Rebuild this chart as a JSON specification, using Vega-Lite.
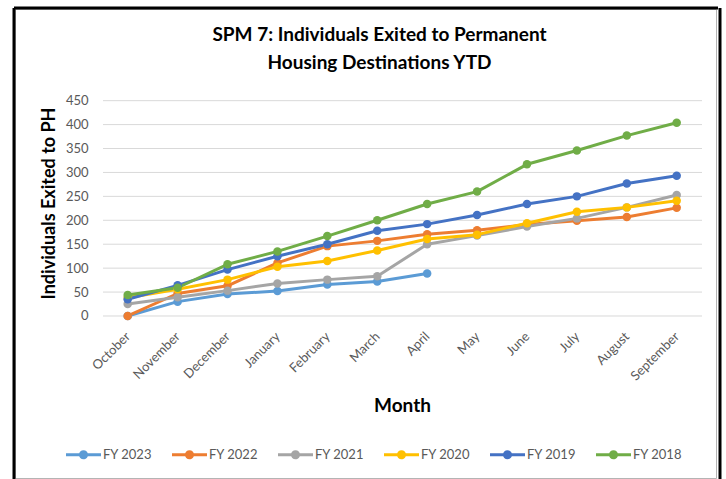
{
  "$schema": "https://vega.github.io/schema/vega-lite/v6.json",
  "width": 701,
  "height": 469,
  "autosize": {"type": "none"},
  "padding": {"left": 15, "top": 9, "right": 10, "bottom": 1},
  "background": "white",
  "config": {
    "font": "Lato",
    "view": {"stroke": "#b4b4b4", "strokeWidth": 1}
  },
  "title": {
    "text": ["SPM 7: Individuals Exited to Permanent", "Housing Destinations YTD"],
    "font": "Lato",
    "fontSize": 19,
    "fontWeight": "bold",
    "color": "#000000",
    "anchor": "middle",
    "frame": "group",
    "lineHeight": 28,
    "offset": -65,
    "dx": 14
  },
  "datasets": {
    "grid": [
      {"g": 0}, {"g": 50}, {"g": 100}, {"g": 150}, {"g": 200},
      {"g": 250}, {"g": 300}, {"g": 350}, {"g": 400}, {"g": 450}
    ],
    "series": [
      {"month": "October", "fy": "FY 2023", "n": 0},
      {"month": "November", "fy": "FY 2023", "n": 30},
      {"month": "December", "fy": "FY 2023", "n": 46},
      {"month": "January", "fy": "FY 2023", "n": 52},
      {"month": "February", "fy": "FY 2023", "n": 66},
      {"month": "March", "fy": "FY 2023", "n": 72},
      {"month": "April", "fy": "FY 2023", "n": 89},

      {"month": "October", "fy": "FY 2022", "n": 0},
      {"month": "November", "fy": "FY 2022", "n": 47},
      {"month": "December", "fy": "FY 2022", "n": 63},
      {"month": "January", "fy": "FY 2022", "n": 111},
      {"month": "February", "fy": "FY 2022", "n": 146},
      {"month": "March", "fy": "FY 2022", "n": 157},
      {"month": "April", "fy": "FY 2022", "n": 171},
      {"month": "May", "fy": "FY 2022", "n": 179},
      {"month": "June", "fy": "FY 2022", "n": 191},
      {"month": "July", "fy": "FY 2022", "n": 199},
      {"month": "August", "fy": "FY 2022", "n": 207},
      {"month": "September", "fy": "FY 2022", "n": 226},

      {"month": "October", "fy": "FY 2021", "n": 25},
      {"month": "November", "fy": "FY 2021", "n": 39},
      {"month": "December", "fy": "FY 2021", "n": 53},
      {"month": "January", "fy": "FY 2021", "n": 68},
      {"month": "February", "fy": "FY 2021", "n": 76},
      {"month": "March", "fy": "FY 2021", "n": 83},
      {"month": "April", "fy": "FY 2021", "n": 150},
      {"month": "May", "fy": "FY 2021", "n": 168},
      {"month": "June", "fy": "FY 2021", "n": 187},
      {"month": "July", "fy": "FY 2021", "n": 204},
      {"month": "August", "fy": "FY 2021", "n": 227},
      {"month": "September", "fy": "FY 2021", "n": 253},

      {"month": "October", "fy": "FY 2020", "n": 38},
      {"month": "November", "fy": "FY 2020", "n": 56},
      {"month": "December", "fy": "FY 2020", "n": 76},
      {"month": "January", "fy": "FY 2020", "n": 103},
      {"month": "February", "fy": "FY 2020", "n": 115},
      {"month": "March", "fy": "FY 2020", "n": 137},
      {"month": "April", "fy": "FY 2020", "n": 161},
      {"month": "May", "fy": "FY 2020", "n": 170},
      {"month": "June", "fy": "FY 2020", "n": 194},
      {"month": "July", "fy": "FY 2020", "n": 218},
      {"month": "August", "fy": "FY 2020", "n": 227},
      {"month": "September", "fy": "FY 2020", "n": 241},

      {"month": "October", "fy": "FY 2019", "n": 35},
      {"month": "November", "fy": "FY 2019", "n": 64},
      {"month": "December", "fy": "FY 2019", "n": 97},
      {"month": "January", "fy": "FY 2019", "n": 125},
      {"month": "February", "fy": "FY 2019", "n": 150},
      {"month": "March", "fy": "FY 2019", "n": 178},
      {"month": "April", "fy": "FY 2019", "n": 192},
      {"month": "May", "fy": "FY 2019", "n": 211},
      {"month": "June", "fy": "FY 2019", "n": 234},
      {"month": "July", "fy": "FY 2019", "n": 250},
      {"month": "August", "fy": "FY 2019", "n": 277},
      {"month": "September", "fy": "FY 2019", "n": 293},

      {"month": "October", "fy": "FY 2018", "n": 44},
      {"month": "November", "fy": "FY 2018", "n": 59},
      {"month": "December", "fy": "FY 2018", "n": 108},
      {"month": "January", "fy": "FY 2018", "n": 135},
      {"month": "February", "fy": "FY 2018", "n": 167},
      {"month": "March", "fy": "FY 2018", "n": 200},
      {"month": "April", "fy": "FY 2018", "n": 234},
      {"month": "May", "fy": "FY 2018", "n": 260},
      {"month": "June", "fy": "FY 2018", "n": 317},
      {"month": "July", "fy": "FY 2018", "n": 346},
      {"month": "August", "fy": "FY 2018", "n": 377},
      {"month": "September", "fy": "FY 2018", "n": 404}
    ]
  },
  "resolve": {"scale": {"x": "independent"}, "axis": {"x": "independent", "y": "independent"}},
  "layer": [
    {
      "data": {"name": "grid"},
      "mark": {"type": "rule", "color": "#d9d9d9", "strokeWidth": 1, "xOffset": 88, "x2Offset": -14},
      "encoding": {
        "x": {
          "datum": "October", "type": "ordinal",
          "scale": {"type": "point", "domain": ["October","November","December","January","February","March","April","May","June","July","August","September"], "padding": 0},
          "axis": {"orient": "top", "offset": 1.5, "domain": true, "domainColor": "#000000", "domainWidth": 3, "domainCap": "square", "labels": false, "ticks": false, "grid": false, "title": null}
        },
        "x2": {"datum": "September"},
        "y": {
          "field": "g", "type": "quantitative",
          "scale": {"domain": [-338.6, 641.6], "nice": false, "zero": false},
          "axis": {"orient": "left", "offset": 1.5, "domain": true, "domainColor": "#000000", "domainWidth": 3, "domainCap": "square", "labels": false, "ticks": false, "grid": false, "title": null}
        }
      }
    },
    {
      "data": {"name": "series"},
      "mark": {"type": "line", "strokeWidth": 3, "strokeJoin": "round", "strokeCap": "round"},
      "encoding": {
        "x": {
          "field": "month", "type": "ordinal", "sort": null,
          "scale": {"type": "point", "domain": ["October","November","December","January","February","March","April","May","June","July","August","September"], "padding": 0, "range": [112.7, 661.7]},
          "axis": {
            "orient": "bottom", "offset": -162, "domain": false, "ticks": false, "tickSize": 0, "grid": false,
            "labelAngle": -45, "labelAlign": "right", "labelBaseline": "middle", "labelFontSize": 13, "labelColor": "#595959", "labelPadding": 18,
            "title": "Month", "titleFontSize": 19, "titleFontWeight": "bold", "titleColor": "#000000",
            "titleX": 387, "titleY": 80, "titleBaseline": "top", "titleAlign": "center"
          }
        },
        "y": {
          "field": "n", "type": "quantitative",
          "scale": {"domain": [-338.6, 641.6], "nice": false, "zero": false},
          "axis": {
            "orient": "left", "offset": -88, "domain": false, "ticks": false, "tickSize": 0, "grid": false,
            "values": [0, 50, 100, 150, 200, 250, 300, 350, 400, 450],
            "labelFontSize": 13, "labelColor": "#595959", "labelPadding": 15,
            "title": "Individuals Exited to PH", "titleFontSize": 18, "titleFontWeight": "bold", "titleColor": "#000000",
            "titleX": -45, "titleY": 194, "titleBaseline": "bottom", "titleAlign": "center", "titleAngle": -90
          }
        },
        "color": {
          "field": "fy", "type": "nominal",
          "scale": {"domain": ["FY 2023","FY 2022","FY 2021","FY 2020","FY 2019","FY 2018"], "range": ["#5B9BD5","#ED7D31","#A5A5A5","#FFC000","#4472C4","#70AD47"]},
          "legend": {
            "orient": "none", "legendX": 51, "legendY": 428, "direction": "horizontal", "title": null, "padding": 0,
            "symbolType": "M-1,-0.086H-0.24V0.086H-1Z M0.24,-0.086H1V0.086H0.24Z M0.26,0A0.26,0.26 0 1,1 -0.26,0A0.26,0.26 0 1,1 0.26,0Z",
            "symbolSize": 1225, "labelOffset": 2, "columnPadding": 20,
            "labelFontSize": 13, "labelColor": "#595959",
            "encode": {"symbols": {"update": {"fill": {"scale": "color", "field": "value"}, "strokeWidth": {"value": 0}, "opacity": {"value": 1}}}}
          }
        }
      }
    },
    {
      "data": {"name": "series"},
      "mark": {"type": "point", "filled": true, "size": 72, "opacity": 1},
      "encoding": {
        "x": {
          "field": "month", "type": "ordinal", "sort": null,
          "scale": {"type": "point", "domain": ["October","November","December","January","February","March","April","May","June","July","August","September"], "padding": 0, "range": [112.7, 661.7]},
          "axis": null
        },
        "y": {
          "field": "n", "type": "quantitative",
          "scale": {"domain": [-338.6, 641.6], "nice": false, "zero": false},
          "axis": {"orient": "right", "offset": 3.5, "domain": true, "domainColor": "#000000", "domainWidth": 3, "domainCap": "square", "labels": false, "ticks": false, "grid": false, "title": null}
        },
        "color": {"field": "fy", "type": "nominal"}
      }
    }
  ]
}
